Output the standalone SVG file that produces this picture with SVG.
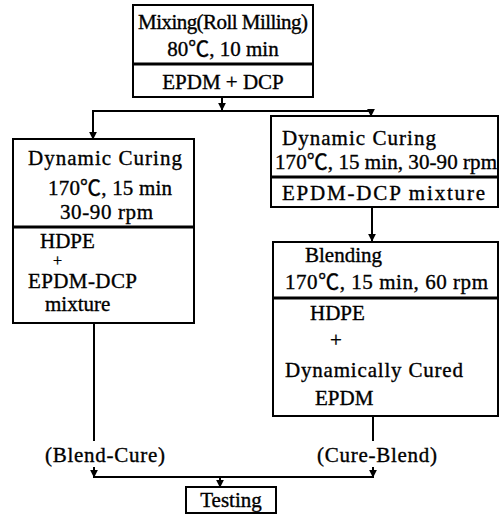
<svg xmlns="http://www.w3.org/2000/svg" width="501" height="514" viewBox="0 0 501 514">
<style>
.box{fill:#fff;stroke:#000;stroke-width:2}
.div{stroke:#000;stroke-width:3}
.ln{stroke:#000;stroke-width:2;fill:none}
text{font-family:"Liberation Serif","Times New Roman","Noto Sans CJK JP",serif;font-size:21px;fill:#000;stroke:#000;stroke-width:0.35}
.c{text-anchor:middle}
.p{font-size:16px}
</style>
<defs>
<marker id="ah" viewBox="0 0 10 10" refX="9" refY="5" markerWidth="4" markerHeight="4" orient="auto" markerUnits="strokeWidth">
<path d="M0,0 L10,5 L0,10 z" fill="#000"/>
</marker>
</defs>
<rect width="501" height="514" fill="#fff"/>
<g id="connectors">
<line class="ln" x1="222" y1="97" x2="222" y2="110" marker-end="url(#ah)"/>
<line class="ln" x1="93" y1="111" x2="371" y2="111"/>
<line class="ln" x1="93" y1="110" x2="93" y2="139" marker-end="url(#ah)"/>
<line class="ln" x1="371" y1="110" x2="371" y2="116" marker-end="url(#ah)"/>
<line class="ln" x1="372" y1="207" x2="372" y2="241" marker-end="url(#ah)"/>
<line class="ln" x1="94" y1="323" x2="94" y2="441"/>
<line class="ln" x1="373" y1="416" x2="373" y2="441"/>
<line class="ln" x1="94" y1="467" x2="94" y2="477" marker-end="url(#ah)"/>
<line class="ln" x1="373" y1="467" x2="373" y2="477" marker-end="url(#ah)"/>
<line class="ln" x1="93" y1="477" x2="374" y2="477"/>
<line class="ln" x1="220" y1="476" x2="220" y2="487" marker-end="url(#ah)"/>
</g>
<g id="mixing">
<rect class="box" x="133" y="5" width="180" height="92"/>
<line class="div" x1="133" y1="64" x2="313" y2="64"/>
<text class="c" x="223" y="29" textLength="170">Mixing(Roll Milling)</text>
<text class="c" x="223" y="56">80℃, 10 min</text>
<text class="c" x="223" y="89">EPDM + DCP</text>
</g>
<g id="blend-cure-box">
<rect class="box" x="13" y="139" width="181" height="184"/>
<line class="div" x1="13" y1="227" x2="194" y2="227"/>
<text x="28" y="165" textLength="154" lengthAdjust="spacing">Dynamic  Curing</text>
<text x="48" y="195" textLength="124" lengthAdjust="spacing">170℃, 15 min</text>
<text x="60" y="219" textLength="93" lengthAdjust="spacing">30-90 rpm</text>
<text x="40" y="248">HDPE</text>
<text class="p" x="53" y="266">+</text>
<text x="28" y="288" textLength="109" lengthAdjust="spacing">EPDM-DCP</text>
<text x="45" y="311">mixture</text>
</g>
<g id="cure-box">
<rect class="box" x="271" y="116" width="227" height="91"/>
<line class="div" x1="271" y1="177" x2="498" y2="177"/>
<text x="282" y="145" textLength="154" lengthAdjust="spacing">Dynamic  Curing</text>
<text x="275" y="169" textLength="222" lengthAdjust="spacing">170℃, 15 min, 30-90 rpm</text>
<text x="282" y="200" textLength="203" lengthAdjust="spacing">EPDM-DCP  mixture</text>
</g>
<g id="blending-box">
<rect class="box" x="273" y="242" width="225" height="174"/>
<line class="div" x1="273" y1="298" x2="498" y2="298"/>
<text x="305" y="262">Blending</text>
<text x="285" y="289" textLength="203" lengthAdjust="spacing">170℃, 15 min, 60 rpm</text>
<text x="310" y="320">HDPE</text>
<text x="330" y="347">+</text>
<text x="285" y="377" textLength="178" lengthAdjust="spacing">Dynamically  Cured</text>
<text x="315" y="405">EPDM</text>
</g>
<g id="labels">
<text x="45" y="462" textLength="120" lengthAdjust="spacing">(Blend-Cure)</text>
<text x="317" y="462" textLength="120" lengthAdjust="spacing">(Cure-Blend)</text>
</g>
<g id="testing">
<rect class="box" x="186" y="487" width="90" height="26"/>
<text class="c" x="231" y="507">Testing</text>
</g>
</svg>
